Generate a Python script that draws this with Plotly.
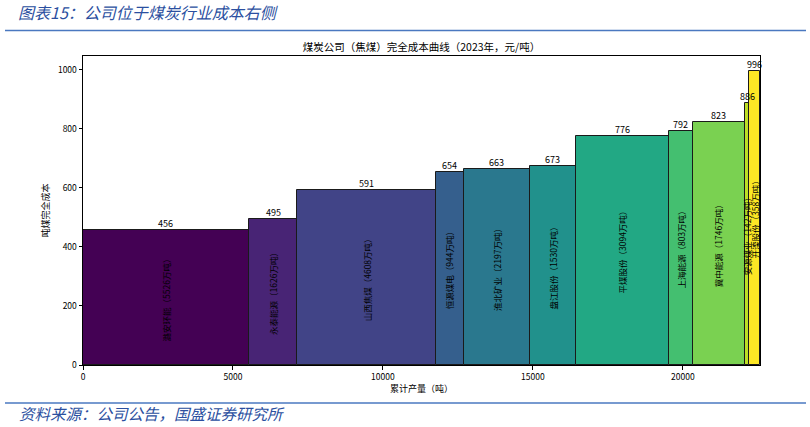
import plotly.graph_objects as go
import numpy as np

companies = ["潞安环能", "永泰能源", "山西焦煤", "恒源煤电", "淮北矿业", "盘江股份",
             "平煤股份", "上海能源", "冀中能源", "安源煤业", "开滦股份"]
capacity = [5526, 1626, 4608, 944, 2197, 1530, 3094, 803, 1746, 142, 358]
cost = [456, 495, 591, 654, 663, 673, 776, 792, 823, 886, 996]
colors = ["#440154", "#482475", "#414487", "#355f8d", "#2a788e", "#21918c",
          "#22a884", "#44bf70", "#7ad151", "#bddf26", "#fde725"]

cap = np.array(capacity, dtype=float)
right = np.cumsum(cap)
left = right - cap
centers = left + cap / 2

FONT = "Noto Sans CJK SC"
W, H = 810, 427
L, R, T, B = 83, 50, 56, 62
PW, PH = W - L - R, H - T - B


def px(X):
    return (X - L) / PW


def py(Y):
    return (H - B - Y) / PH


fig = go.Figure()
fig.add_trace(go.Bar(
    x=centers, y=cost, width=cap, base=0,
    marker=dict(color=colors, line=dict(color="#1a1a1a", width=1)),
    hoverinfo="skip", showlegend=False,
))

annotations = []
for c, v, n, w in zip(centers, cost, companies, capacity):
    annotations.append(dict(x=c, y=v, xref="x", yref="y", text=str(v), showarrow=False,
                            yanchor="bottom", yshift=-2, font=dict(size=9, color="#000", family=FONT)))
    annotations.append(dict(x=c, y=v / 2, xref="x", yref="y", text=f"{n}（{w}万吨）",
                            showarrow=False, textangle=-90,
                            font=dict(size=8.5, color="#000", family=FONT)))

BLUE_T = "#2b4fa0"
annotations += [
    dict(x=px(16), y=py(12), xref="paper", yref="paper", xanchor="left", yanchor="middle",
         text="<i>图表15：公司位于煤炭行业成本右侧</i>", showarrow=False,
         font=dict(size=16, color=BLUE_T, family=FONT)),
    dict(x=px(17), y=py(413), xref="paper", yref="paper", xanchor="left", yanchor="middle",
         text="<i>资料来源：公司公告，国盛证券研究所</i>", showarrow=False,
         font=dict(size=15.5, color=BLUE_T, family=FONT)),
]

shapes = [
    dict(type="line", xref="paper", yref="paper", x0=px(5), x1=px(806), y0=py(30.5), y1=py(30.5),
         line=dict(color="#4a78c0", width=1.5)),
    dict(type="line", xref="paper", yref="paper", x0=px(5), x1=px(806), y0=py(403), y1=py(403),
         line=dict(color="#4a78c0", width=1.5)),
]

fig.update_layout(
    width=W, height=H,
    margin=dict(l=L, r=R, t=T, b=B),
    paper_bgcolor="white", plot_bgcolor="white",
    font=dict(family=FONT, size=9, color="#000"),
    title=dict(text="煤炭公司（焦煤）完全成本曲线（2023年，元/吨）", x=0.5, xref="paper",
               y=1 - 47 / H, yanchor="middle", font=dict(size=10.5, family=FONT, color="#000")),
    xaxis=dict(range=[0, float(right[-1])], tickvals=[0, 5000, 10000, 15000, 20000],
               ticktext=["0", "5000", "10000", "15000", "20000"],
               ticks="outside", ticklen=3.5, tickcolor="#000", showgrid=False, zeroline=False,
               showline=True, linecolor="#000", linewidth=1, mirror=True,
               title=dict(text="累计产量（吨）", font=dict(size=9, family=FONT), standoff=4),
               tickfont=dict(size=8.5)),
    yaxis=dict(range=[0, 1045.8], tickvals=[0, 200, 400, 600, 800, 1000],
               ticks="outside", ticklen=3.5, tickcolor="#000", showgrid=False, zeroline=False,
               showline=True, linecolor="#000", linewidth=1, mirror=True,
               title=dict(text="吨煤完全成本", font=dict(size=9, family=FONT), standoff=6),
               tickfont=dict(size=8.5)),
    bargap=0,
    annotations=annotations,
    shapes=shapes,
)

fig.write_html("out.html", config={"displayModeBar": False},
               post_script="document.body.style.margin='0';document.body.style.padding='0';")
